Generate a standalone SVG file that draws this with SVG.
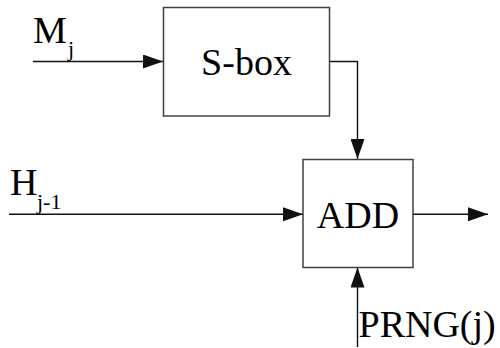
<svg xmlns="http://www.w3.org/2000/svg" width="500" height="348" viewBox="0 0 500 348">
  <defs>
    <marker id="arrow" markerUnits="userSpaceOnUse" markerWidth="20" markerHeight="14" refX="20" refY="7" orient="auto">
      <path d="M0,0 L20,7 L0,14 Z" fill="#111111"/>
    </marker>
  </defs>
  <rect width="500" height="348" fill="#ffffff"/>

  <g id="connectors" fill="none" stroke="#111111" stroke-width="1.4">
    <line x1="33" y1="61.5" x2="163" y2="61.5" marker-end="url(#arrow)"/>
    <polyline points="329.5,61.5 357.5,61.5 357.5,159" marker-end="url(#arrow)"/>
    <line x1="9" y1="214.3" x2="303" y2="214.3" marker-end="url(#arrow)"/>
    <line x1="413" y1="214.3" x2="488" y2="214.3" marker-end="url(#arrow)"/>
    <line x1="357.5" y1="347" x2="357.5" y2="267.5" marker-end="url(#arrow)"/>
  </g>

  <g id="sbox">
    <rect x="163.5" y="7.5" width="166" height="108.5" fill="#ffffff" stroke="#404040" stroke-width="1.5"/>
    <text x="246.5" y="75" text-anchor="middle" font-size="38" font-family="Times New Roman" fill="#000000">S-box</text>
  </g>

  <g id="add">
    <rect x="303" y="159.5" width="110" height="108" fill="#ffffff" stroke="#404040" stroke-width="1.5"/>
    <text x="358" y="227.5" text-anchor="middle" font-size="38" font-family="Times New Roman" fill="#000000">ADD</text>
  </g>

  <g id="input-m">
    <text x="33" y="42.5" font-size="38" font-family="Times New Roman" fill="#000000">M</text>
    <text x="68" y="56" font-size="22" font-family="Times New Roman" fill="#000000">j</text>
  </g>

  <g id="input-h">
    <text x="10" y="195" font-size="38" font-family="Times New Roman" fill="#000000">H</text>
    <text x="37" y="208.5" font-size="22" font-family="Times New Roman" fill="#000000">j-1</text>
  </g>

  <g id="input-prng">
    <text x="358.5" y="336.7" font-size="38" font-family="Times New Roman" fill="#000000">PRNG(j)</text>
  </g>
</svg>
